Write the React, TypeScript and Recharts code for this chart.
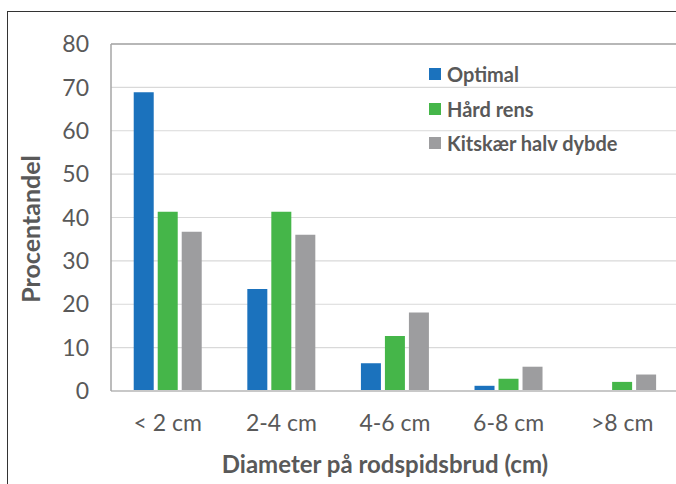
import { BarChart, Bar, XAxis, YAxis, CartesianGrid, Legend, ReferenceLine, Label } from "recharts";

const categories = ["< 2 cm", "2-4 cm", "4-6 cm", "6-8 cm", ">8 cm"];
const optimal = [68.9, 23.5, 6.4, 1.2, 0.2];
const haardRens = [41.3, 41.3, 12.7, 2.8, 2.1];
const kitskaer = [36.7, 36.0, 18.1, 5.6, 3.8];
const yTicks = [0, 10, 20, 30, 40, 50, 60, 70, 80];

const series = [
  { key: "optimal", name: "Optimal", color: "#1b72bd" },
  { key: "haard", name: "Hård rens", color: "#45b649" },
  { key: "kitsk", name: "Kitskær halv dybde", color: "#9d9d9f" },
];

const data = categories.map((c, i) => ({
  cat: c,
  optimal: optimal[i],
  haard: haardRens[i],
  kitsk: kitskaer[i],
}));

const FONT = "Lato, 'DejaVu Sans', sans-serif";
const TEXT = "#595959";

function LegendBox() {
  return (
    <div style={{ fontFamily: FONT }}>
      {series.map((s) => (
        <div key={s.key} style={{ display: "flex", alignItems: "center", height: 34.5 }}>
          <span style={{ width: 12, height: 12, background: s.color, display: "inline-block", marginRight: 6 }} />
          <span style={{ fontSize: 20, fontWeight: 700, color: TEXT }}>{s.name}</span>
        </div>
      ))}
    </div>
  );
}

export default function App() {
  return (
    <div style={{ position: "fixed", left: 0, top: 0, width: 676, height: 484, overflow: "hidden", background: "#fff" }}>
      <div
        style={{
          position: "absolute",
          left: 7,
          top: 11,
          width: 700,
          height: 500,
          borderLeft: "1.5px solid #333",
          borderTop: "1.5px solid #333",
        }}
      />
      <div style={{ position: "absolute", left: 0, top: 0 }}>
        <BarChart
          width={720}
          height={484}
          data={data}
          margin={{ top: 44, right: 41, bottom: 0, left: 0 }}
          barGap={4}
          barCategoryGap="20%"
        >
          <CartesianGrid horizontal vertical={false} stroke="#d9d9d9" strokeWidth={1.2} />
          <ReferenceLine y={80} stroke="#a6a6a6" strokeWidth={1.5} />
          <XAxis
            dataKey="cat"
            height={93}
            interval={0}
            tickLine={false}
            axisLine={{ stroke: "#c8c8c8", strokeWidth: 2 }}
            tickSize={0}
            tickMargin={24}
            tick={{ fill: TEXT, fontSize: 23, fontFamily: FONT }}
          >
            <Label
              content={() => (
                <text x={385} y={463} textAnchor="middle" dominantBaseline="central" fill={TEXT} fontSize={24} fontWeight={700} fontFamily={FONT}>
                  Diameter på rodspidsbrud (cm)
                </text>
              )}
            />
          </XAxis>
          <YAxis
            width={111}
            domain={[0, 80]}
            ticks={yTicks}
            interval={0}
            tickLine={false}
            axisLine={{ stroke: "#a6a6a6", strokeWidth: 1.5 }}
            tickSize={0}
            tickMargin={22}
            tick={{ fill: TEXT, fontSize: 23, fontFamily: FONT }}
          >
            <Label
              content={() => (
                <text x={30} y={229} transform="rotate(-90 30 229)" textAnchor="middle" dominantBaseline="central" fill={TEXT} fontSize={25} fontWeight={700} fontFamily={FONT}>
                  Procentandel
                </text>
              )}
            />
          </YAxis>
          <Legend
            layout="vertical"
            verticalAlign="middle"
            align="center"
            content={() => <LegendBox />}
            wrapperStyle={{ position: "absolute", left: 429, top: 57, width: 240 }}
          />
          {series.map((s) => (
            <Bar key={s.key} dataKey={s.key} name={s.name} fill={s.color} isAnimationActive={false} />
          ))}
        </BarChart>
      </div>
    </div>
  );
}
